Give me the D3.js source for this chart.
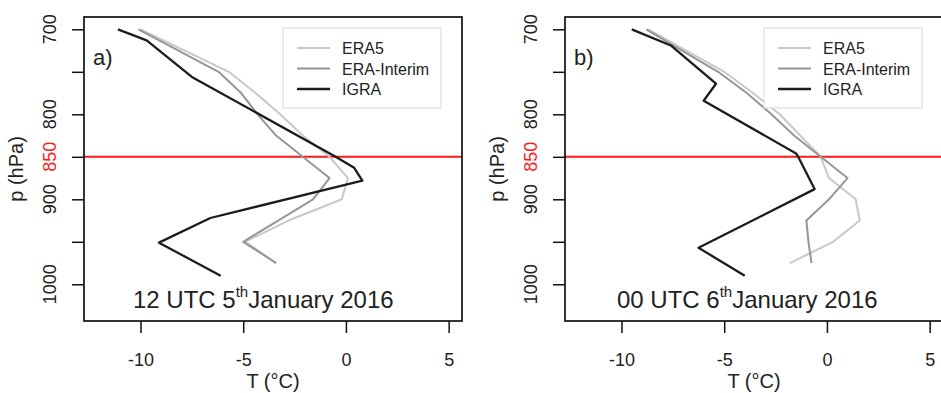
<!DOCTYPE html>
<html>
<head>
<meta charset="utf-8">
<script src="https://cdn.jsdelivr.net/npm/d3@7"></script>
<style>
  html, body { margin: 0; padding: 0; background: #fff; }
  svg { display: block; font-family: "Liberation Sans", Arial, Helvetica, sans-serif; }
</style>
</head>
<body>
<svg id="chart" width="941" height="393"></svg>
<script>
// Reanalysis pressure levels (hPa)
const levels = [700, 750, 775, 800, 825, 850, 875, 900, 925, 950, 975];

// Panel a: 12 UTC 5 January 2016 (T in °C)
const era5A    = [-10.0, -5.7, -4.4, -3.2, -2.1, -0.8, 0.1, -0.2, -2.8, -4.9, -3.4];
const eraIntA  = [-10.1, -6.2, -5.1, -4.3, -3.4, -2.1, -0.8, -1.6, -3.3, -5.0, -3.4];
const igraPA   = [700, 713, 756, 850, 863, 878, 922, 951, 990];
const igraTA   = [-11.1, -9.7, -7.5, -0.5, 0.4, 0.8, -6.6, -9.1, -6.1];

// Panel b: 00 UTC 6 January 2016 (T in °C)
const era5B    = [-8.7, -5.0, -3.6, -2.3, -1.3, -0.3, 0.1, 1.4, 1.6, 0.3, -1.8];
const eraIntB  = [-8.8, -5.3, -3.9, -2.7, -1.6, -0.3, 1.0, 0.1, -1.0, -0.9, -0.75];
const igraPB   = [700, 719, 764, 784, 846, 850, 888, 957, 990];
const igraTB   = [-9.5, -7.6, -5.4, -6.0, -1.5, -1.4, -0.6, -6.25, -4.0];

const seriesNames = ["ERA5", "ERA-Interim", "IGRA"];
const seriesColors = ["#c8c8c8", "#969696", "#1c1c1c"];
const xTicks = [-10, -5, 0, 5];
const yTicks = [700, 750, 800, 850, 900, 950, 1000];
const yLabelled = [700, 800, 850, 900, 1000];
const refLevel = 850;

const panels = [
  { left: 84,  tag: "a)", day: "5", hour: "12", era5: era5A, eraInt: eraIntA, igraP: igraPA, igraT: igraTA, titleX: 133 },
  { left: 565, tag: "b)", day: "6", hour: "00", era5: era5B, eraInt: eraIntB, igraP: igraPB, igraT: igraTB, titleX: 617 }
];

const svg = d3.select("#chart");
const plotW = 378, plotTop = 17, plotBottom = 321;

panels.forEach(pn => {
  const x = d3.scaleLinear().domain([-12.75, 5.65]).range([pn.left, pn.left + plotW]);
  const y = d3.scaleLinear().domain([685.5, 1043.2]).range([plotTop, plotBottom]);
  const g = svg.append("g");

  // reference level
  g.append("line")
    .attr("x1", pn.left).attr("x2", pn.left + plotW)
    .attr("y1", y(refLevel)).attr("y2", y(refLevel))
    .attr("stroke", "#ff1a1a").attr("stroke-width", 2);

  // profiles
  const line = d3.line().x(d => x(d[1])).y(d => y(d[0]));
  const profiles = [
    { data: levels.map((p, i) => [p, pn.era5[i]]), c: seriesColors[0], w: 2 },
    { data: levels.map((p, i) => [p, pn.eraInt[i]]), c: seriesColors[1], w: 2 },
    { data: pn.igraP.map((p, i) => [p, pn.igraT[i]]), c: seriesColors[2], w: 2.3 }
  ];
  profiles.forEach(s => {
    g.append("path").datum(s.data).attr("d", line)
      .attr("fill", "none").attr("stroke", s.c).attr("stroke-width", s.w)
      .attr("stroke-linejoin", "round");
  });

  // frame
  g.append("rect").attr("x", pn.left).attr("y", plotTop)
    .attr("width", plotW).attr("height", plotBottom - plotTop)
    .attr("fill", "none").attr("stroke", "#111").attr("stroke-width", 1.7);

  // x axis
  const xa = g.append("g").attr("transform", `translate(0,${plotBottom})`)
    .call(d3.axisBottom(x).tickValues(xTicks).tickSize(12).tickPadding(20).tickFormat(d3.format("d")));
  xa.select(".domain").remove();
  xa.selectAll("line").attr("stroke", "#111").attr("stroke-width", 1.5);
  xa.selectAll("text").attr("font-size", 18).attr("fill", "#222")
    .attr("font-family", "Liberation Sans, Arial, sans-serif")
    .text(d => d < 0 ? "-" + Math.abs(d) : d);

  // y axis
  const ya = g.append("g").attr("transform", `translate(${pn.left},0)`)
    .call(d3.axisLeft(y).tickValues(yTicks).tickSize(12).tickFormat(""));
  ya.select(".domain").remove();
  ya.selectAll("line").attr("stroke", "#111").attr("stroke-width", 1.5);
  yLabelled.forEach(v => {
    g.append("text")
      .attr("transform", `translate(${pn.left - 28},${y(v)}) rotate(-90)`)
      .attr("text-anchor", "middle").attr("font-size", 18)
      .attr("fill", v === refLevel ? "#ff1a1a" : "#222")
      .text(v);
  });

  // axis titles
  g.append("text")
    .attr("transform", `translate(${pn.left - 61},${(plotTop + plotBottom) / 2}) rotate(-90)`)
    .attr("text-anchor", "middle").attr("font-size", 20).attr("fill", "#222")
    .text("p (hPa)");
  g.append("text")
    .attr("x", pn.left + 189).attr("y", 388)
    .attr("text-anchor", "middle").attr("font-size", 20).attr("fill", "#222")
    .text("T (°C)");

  // panel tag
  g.append("text").attr("x", pn.left + 9).attr("y", 65)
    .attr("font-size", 22).attr("fill", "#222").text(pn.tag);

  // date label with superscript
  const t = g.append("text").attr("x", pn.titleX).attr("y", 308)
    .attr("font-size", 24).attr("fill", "#222");
  t.append("tspan").text(`${pn.hour} UTC ${pn.day}`);
  t.append("tspan").attr("font-size", 15).attr("dy", -11).text("th");
  t.append("tspan").attr("dy", 11).text("January 2016");

  // legend
  const lx = pn.left + 199, ly = 28;
  g.append("rect").attr("x", lx).attr("y", ly).attr("width", 158).attr("height", 80)
    .attr("fill", "#fff").attr("stroke", "#d8d8d8").attr("stroke-width", 1);
  seriesNames.forEach((n, i) => {
    const yy = ly + 20 + i * 20.5;
    g.append("line").attr("x1", lx + 14).attr("x2", lx + 47).attr("y1", yy).attr("y2", yy)
      .attr("stroke", seriesColors[i]).attr("stroke-width", i === 2 ? 2.3 : 2);
    g.append("text").attr("x", lx + 59).attr("y", yy + 6)
      .attr("font-size", 16).attr("fill", "#222").text(n);
  });
});
</script>
</body>
</html>
